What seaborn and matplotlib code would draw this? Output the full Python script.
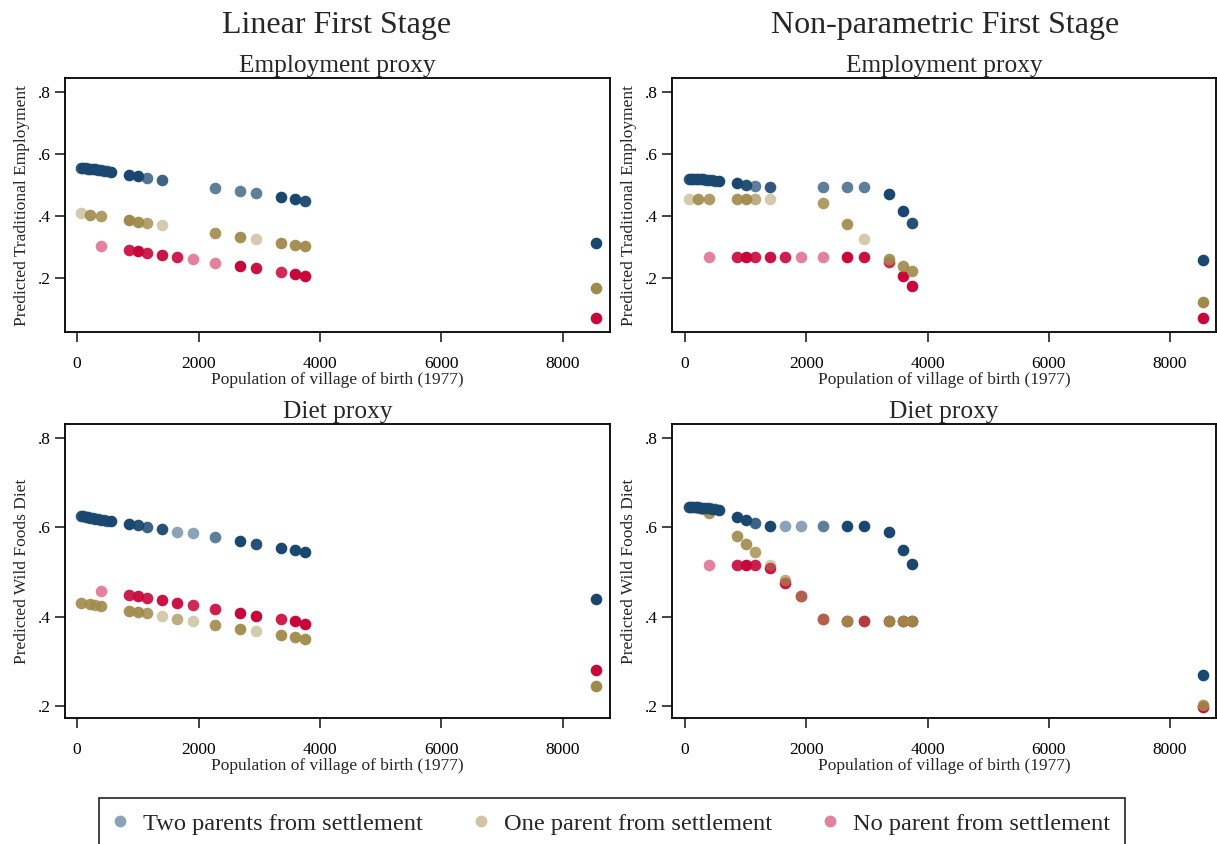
import numpy as np
import pandas as pd
import matplotlib
matplotlib.use("Agg")
import matplotlib.pyplot as plt
from matplotlib.lines import Line2D
import seaborn as sns

nan = np.nan

# village populations (1977)
pop = [60, 100, 140, 180, 220, 260, 300, 350, 395, 450, 500, 560,
       856, 1004, 1152, 1400, 1646, 1910, 2270, 2680, 2950, 3360, 3590, 3750, 8550]

groups = ["Two parents from settlement", "One parent from settlement", "No parent from settlement"]

# ---- Linear first stage, employment proxy
lin_emp_two = [.556, .555, .554, .553, .552, .551, .550, .549, .548, .546, .545, .542,
               .533, .529, .524, .516, nan, nan, .491, .481, .473, .461, .455, .449, .313]
lin_emp_two_w = [.9, .9, .9, .9, .9, .9, .9, .9, .9, .85, .85, 1,
                 1, 1, .75, .85, 1, 1, .7, .7, .7, 1, 1, .95, 1]
lin_emp_one = [.410, nan, nan, nan, .404, nan, nan, nan, .399, nan, nan, nan,
               .386, .382, .377, .370, nan, nan, .344, .333, .326, .313, .307, .302, .168]
lin_emp_one_w = [.45, 1, 1, 1, .9, 1, 1, 1, .85, 1, 1, 1,
                 1, .95, .8, .45, 1, 1, .9, .95, .45, .95, .95, .95, 1]
lin_emp_no = [nan, nan, nan, nan, nan, nan, nan, nan, .303, nan, nan, nan,
              .290, .287, .282, .274, .269, .261, .249, .239, .231, .219, .212, .207, .071]
lin_emp_no_w = [1, 1, 1, 1, 1, 1, 1, 1, .5, 1, 1, 1,
                .9, 1, .9, .95, .9, .5, .5, 1, .95, .85, 1, 1, 1]

# ---- Non-parametric first stage, employment proxy
np_emp_two = [.520, .520, .519, .519, .519, .518, .518, .517, .516, .515, .514, .512,
              .505, .501, .498, .494, nan, nan, .495, .495, .495, .472, .417, .376, .258]
np_emp_two_w = [.9, .9, .9, .9, .9, .9, .9, .9, .85, .85, .85, 1,
                1, .95, .7, .9, 1, 1, .7, .7, .7, 1, 1, .95, 1]
np_emp_one = [.455, nan, nan, nan, .455, nan, nan, nan, .455, nan, nan, nan,
              .455, .455, .455, .455, nan, nan, .442, .374, .327, .260, .239, .223, .123]
np_emp_one_w = [.45, 1, 1, 1, .9, 1, 1, 1, .85, 1, 1, 1,
                .9, .95, .7, .45, 1, 1, .85, .9, .45, .9, .9, .9, 1]
np_emp_no = [nan, nan, nan, nan, nan, nan, nan, nan, .268, nan, nan, nan,
             .268, .268, .268, .268, .268, .268, .268, .268, .268, .252, .207, .175, .071]
np_emp_no_w = [1, 1, 1, 1, 1, 1, 1, 1, .5, 1, 1, 1,
               .9, 1, .9, .95, .9, .5, .5, 1, .95, .85, 1, 1, 1]

# ---- Linear first stage, diet proxy
lin_diet_two = [.625, .624, .623, .622, .621, .620, .619, .618, .617, .616, .615, .614,
                .608, .604, .601, .596, .590, .586, .577, .569, .563, .554, .549, .545, .440]
lin_diet_two_w = [.9, .9, .9, .9, .9, .9, .9, .9, .9, .85, .85, 1,
                  1, .95, .85, .95, .5, .5, .7, 1, .95, 1, 1, 1, 1]
lin_diet_one = [.431, nan, nan, nan, .428, nan, .426, nan, .423, nan, nan, nan,
                .413, .410, .407, .402, .395, .391, .382, .373, .368, .358, .355, .350, .245]
lin_diet_one_w = [.9, 1, 1, 1, .9, 1, .8, 1, .9, 1, 1, 1,
                  .95, .95, .85, .45, .7, .45, .9, .95, .45, .95, .95, .95, 1]
lin_diet_no = [nan, nan, nan, nan, nan, nan, nan, nan, .458, nan, nan, nan,
               .448, .445, .441, .436, .431, .425, .417, .408, .402, .394, .389, .384, .281]
lin_diet_no_w = [1, 1, 1, 1, 1, 1, 1, 1, .5, 1, 1, 1,
                 .9, .95, .9, .95, .95, .85, .9, 1, 1, .9, 1, 1, 1]

# ---- Non-parametric first stage, diet proxy
np_diet_two = [.646, .646, .646, .645, .645, .644, .644, .643, .642, .641, .640, .638,
               .622, .616, .610, .602, .602, .602, .602, .602, .602, .590, .549, .518, .269]
np_diet_two_w = [.9, .9, .9, .9, .9, .9, .9, .9, .9, .85, .85, 1,
                 1, 1, .85, 1, .5, .5, .7, 1, 1, 1, 1, 1, 1]
np_diet_one = [.645, nan, nan, nan, .643, nan, .640, nan, .631, nan, nan, nan,
               .581, .563, .544, .516, .481, .445, .395, .389, .389, .389, .389, .389, .202]
np_diet_one_w = [.5, 1, 1, 1, .8, 1, .8, 1, .9, 1, 1, 1,
                 .9, .9, .8, .45, .7, .6, .6, .95, .4, .95, .95, .95, .9]
np_diet_no = [nan, nan, nan, nan, nan, nan, nan, nan, .516, nan, nan, nan,
              .516, .516, .516, .509, .475, .445, .395, .389, .389, .389, .389, .389, .198]
np_diet_no_w = [1, 1, 1, 1, 1, 1, 1, 1, .5, 1, 1, 1,
                .9, 1, .9, .95, .95, .9, .9, 1, 1, 1, 1, 1, 1]

col_titles = ["Linear First Stage", "Non-parametric First Stage"]
row_titles = ["Employment proxy", "Diet proxy"]
ylabels = ["Predicted Traditional Employment", "Predicted Wild Foods Diet"]
xlabel = "Population of village of birth (1977)"

panels = [
    [(lin_emp_two, lin_emp_two_w), (lin_emp_one, lin_emp_one_w), (lin_emp_no, lin_emp_no_w)],
    [(np_emp_two, np_emp_two_w), (np_emp_one, np_emp_one_w), (np_emp_no, np_emp_no_w)],
    [(lin_diet_two, lin_diet_two_w), (lin_diet_one, lin_diet_one_w), (lin_diet_no, lin_diet_no_w)],
    [(np_diet_two, np_diet_two_w), (np_diet_one, np_diet_one_w), (np_diet_no, np_diet_no_w)],
]

colors = {groups[0]: "#1a476f", groups[1]: "#a08a4a", groups[2]: "#c8063a"}
draw_order = [groups[2], groups[1], groups[0]]


def panel_frame(series):
    rows = []
    for g, (vals, wts) in zip(groups, series):
        for p, v, w in zip(pop, vals, wts):
            if not np.isnan(v):
                rows.append({"pop": p, "value": v, "group": g, "weight": w})
    return pd.DataFrame(rows)


sns.set_style("ticks")
plt.rcParams["font.family"] = ["Liberation Serif", "DejaVu Serif"]

W, H = 1217, 844
fig = plt.figure(figsize=(W / 100, H / 100), dpi=100)

# axes boxes in pixels: left, top, right, bottom
boxes = [(65, 78, 610, 332), (672, 78, 1216, 332),
         (65, 424, 610, 718), (672, 424, 1216, 718)]
xlims = [(-198, 8774), (-214, 8757), (-198, 8774), (-214, 8757)]
ylims = [(0.026, 0.845), (0.026, 0.845), (0.173, 0.831), (0.173, 0.831)]

for i, (series, box) in enumerate(zip(panels, boxes)):
    l, t, r, b = box
    ax = fig.add_axes([l / W, 1 - b / H, (r - l) / W, (b - t) / H])
    df = panel_frame(series)
    for g in draw_order:
        sub = df[df["group"] == g]
        for w, part in sub.groupby("weight"):
            sns.scatterplot(data=part, x="pop", y="value", color=colors[g], alpha=w,
                            s=70, linewidth=0, ax=ax, legend=False)
    ax.set_xlim(*xlims[i])
    ax.set_ylim(*ylims[i])
    ax.set_xticks([0, 2000, 4000, 6000, 8000])
    yt = [.2, .4, .6, .8]
    ax.set_yticks(yt)
    ax.set_yticklabels([f"{v:.1f}".lstrip("0") for v in yt])
    ax.tick_params(axis="both", direction="out", length=7, width=1.2, labelsize=12.5,
                   color="#222222", labelcolor="black")
    ax.tick_params(axis="x", pad=10)
    ax.tick_params(axis="y", pad=3)
    for sp in ax.spines.values():
        sp.set_visible(True)
        sp.set_linewidth(1.3)
        sp.set_color("black")
    ax.set_xlabel(xlabel, fontsize=12.5, labelpad=0)
    ax.set_ylabel(ylabels[i // 2], fontsize=12.5, labelpad=6)
    ax.set_title(row_titles[i // 2], fontsize=18.3, pad=4)

fig.text(337 / W, 1 - 25 / H, col_titles[0], fontsize=23, ha="center", va="center")
fig.text(945 / W, 1 - 25 / H, col_titles[1], fontsize=23, ha="center", va="center")

handles = [Line2D([0], [0], marker="o", linestyle="", markersize=8.5,
                  markerfacecolor=colors[g], markeredgewidth=0, alpha=0.5) for g in groups]
leg = fig.legend(handles, groups, loc="center", bbox_to_anchor=(612 / W, 1 - 823.5 / H),
                 ncol=3, fontsize=17.6, frameon=True, fancybox=False, borderpad=0.6,
                 columnspacing=2.1, handletextpad=0.7, handlelength=0.5)
leg.get_frame().set_edgecolor("black")
leg.get_frame().set_linewidth(1.3)

fig.savefig("out.png", dpi=100, facecolor="white")
